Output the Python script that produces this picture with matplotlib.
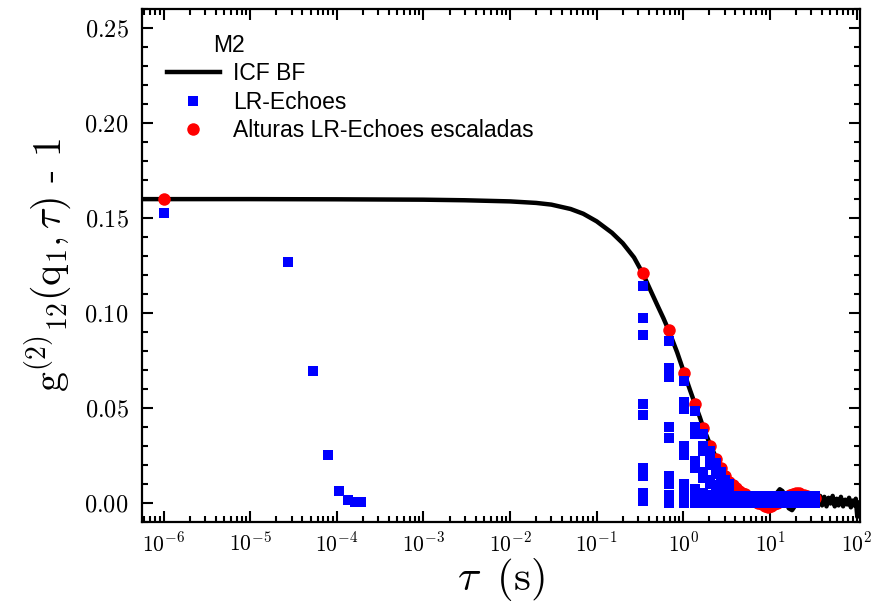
import numpy as np
import matplotlib
matplotlib.use("Agg")
import matplotlib.pyplot as plt
from matplotlib.ticker import FuncFormatter, MultipleLocator, LogLocator, NullFormatter

plt.rcParams['mathtext.fontset'] = 'cm'
plt.rcParams['font.family'] = ['Liberation Sans', 'DejaVu Sans']

# ajuste ICF BF
icf_tau = [5.6e-7, 1e-6, 1e-5, 1e-4, 1e-3, 3e-3, 1e-2, 2e-2, 3e-2, 5e-2, 7e-2, 0.1, 0.15,
           0.2, 0.27, 0.34, 0.42, 0.5, 0.59, 0.68, 0.85, 1.02, 1.2, 1.36, 1.55, 1.7, 2.04,
           2.4, 2.8, 3.2, 3.7, 4.4, 5.2, 6.0, 7.0, 8.0, 9.0, 10, 11, 12, 13, 14, 15, 16.5,
           18, 20, 22, 25, 28, 31, 34, 36, 38, 40, 42.5, 45, 47.5, 50, 53, 56, 59, 62, 66,
           70, 74, 78, 82, 86, 90, 94, 98, 102, 106]
icf_g = [0.1597, 0.1597, 0.1597, 0.1596, 0.1594, 0.1591, 0.1585, 0.1577, 0.1568, 0.1545,
         0.1520, 0.1480, 0.1420, 0.1365, 0.1290, 0.1207, 0.1115, 0.1040, 0.0970, 0.0905,
         0.0790, 0.0684, 0.0590, 0.0520, 0.0450, 0.0395, 0.0305, 0.0235, 0.0180, 0.0140,
         0.0105, 0.0075, 0.0052, 0.0038, 0.0025, 0.0015, 0.0008, 0.0005, 0.0020, 0.0050,
         0.0070, 0.0060, 0.0020, -0.0030, -0.0040, -0.0010, 0.0030, 0.0050, 0.0030, 0.0010,
         0.0040, -0.0010, 0.0035, -0.0015, 0.0030, -0.0020, 0.0025, -0.0005, 0.0035, -0.0020,
         0.0020, -0.0015, 0.0030, -0.0020, 0.0015, -0.0010, 0.0025, -0.0025, 0.0010, -0.0015,
         0.0020, -0.0075, 0.0000]

# LR-Echoes: puntos tempranos
early_tau = [1e-6, 2.7e-5, 5.3e-5, 8.0e-5, 1.07e-4, 1.35e-4, 1.62e-4, 1.9e-4]
early_g = [0.1526, 0.1267, 0.0691, 0.0252, 0.0060, 0.0012, 0.0004, 0.0001]

# LR-Echoes: columnas de ecos
echo_tau = [0.34, 0.68, 1.02, 1.36, 1.70, 2.04, 2.38, 2.72, 3.06, 3.40]
echo_cols = [
    [0.114, 0.097, 0.088, 0.052, 0.046, 0.018, 0.014, 0.005, 0.001],
    [0.085, 0.071, 0.066, 0.040, 0.034, 0.014, 0.010, 0.004, 0.000],
    [0.064, 0.053, 0.049, 0.030, 0.025, 0.010, 0.007, 0.003, 0.000],
    [0.048, 0.040, 0.036, 0.022, 0.018, 0.007, 0.005, 0.002, 0.000],
    [0.036, 0.030, 0.027, 0.016, 0.013, 0.005, 0.004, 0.001, 0.000],
    [0.027, 0.022, 0.020, 0.012, 0.010, 0.004, 0.003, 0.001, 0.000],
    [0.021, 0.017, 0.015, 0.009, 0.007, 0.003, 0.002, 0.000],
    [0.016, 0.013, 0.012, 0.007, 0.006, 0.002, 0.001, 0.000],
    [0.012, 0.010, 0.009, 0.005, 0.004, 0.001, 0.000],
    [0.010, 0.008, 0.007, 0.004, 0.003, 0.001, 0.000],
]

# LR-Echoes: banda cerca de cero
band_tau = [3.7, 4.1, 4.5, 5.0, 5.5, 6.0, 6.6, 7.3, 8.0, 8.8, 9.7, 10.7, 11.8, 13, 14.3,
            15.7, 17.3, 19, 21, 23, 25.3, 27.8, 30.6, 33]
band_levels = [0.0035, 0.0015, 0.0]

# Alturas LR-Echoes escaladas
alt_tau = [1e-6, 0.34, 0.68, 1.02, 1.36, 1.70, 2.04, 2.38, 2.72, 3.06, 3.40, 3.74, 4.08,
           4.42, 4.76, 5.10, 5.8, 6.5, 7.2, 8.0, 8.8, 9.5, 10.2, 11.0, 12, 13, 14, 15.5,
           17, 18.5, 20, 21.5, 23, 25, 27, 29, 31, 33]
alt_g = [0.1597, 0.1207, 0.0909, 0.0684, 0.0520, 0.0390, 0.0300, 0.0230, 0.0180, 0.0140,
         0.0110, 0.0090, 0.0075, 0.0060, 0.0050, 0.0045, 0.0030, 0.0020, 0.0000, -0.0010,
         -0.0020, -0.0025, -0.0020, -0.0010, 0.0000, 0.0010, 0.0020, 0.0030, 0.0040, 0.0045,
         0.0050, 0.0050, 0.0040, 0.0040, 0.0035, 0.0030, 0.0030, 0.0025]

x_decades = [1e-6, 1e-5, 1e-4, 1e-3, 1e-2, 1e-1, 1e0, 1e1, 1e2]

lr_tau = list(early_tau)
lr_g = list(early_g)
for t, col in zip(echo_tau, echo_cols):
    lr_tau += [t] * len(col)
    lr_g += col
for t in band_tau:
    for lev in band_levels:
        lr_tau.append(t)
        lr_g.append(lev)

fig = plt.figure(figsize=(8.75, 6.1), dpi=100)
ax = fig.add_axes([0.162, 0.145, 0.821, 0.841])

ax.plot(icf_tau, icf_g, color='black', lw=3.2, zorder=2, label='ICF BF')
ax.plot(lr_tau, lr_g, 's', color='#0000ff', ms=7.5, mew=0, zorder=4, label='LR-Echoes')
ax.plot(alt_tau, alt_g, 'o', color='#ff0000', ms=9, mew=0, zorder=3,
        label='Alturas LR-Echoes escaladas')

ax.set_xscale('log')
ax.set_xlim(5.6e-7, 1.1e2)
ax.set_ylim(-0.01, 0.26)

ax.yaxis.set_major_locator(MultipleLocator(0.05))
ax.yaxis.set_minor_locator(MultipleLocator(0.01))
ax.set_xticks(x_decades)
ax.xaxis.set_minor_locator(LogLocator(base=10, subs=np.arange(2, 10), numticks=20))
ax.xaxis.set_minor_formatter(NullFormatter())
ax.xaxis.set_major_formatter(FuncFormatter(lambda v, p: r'$10^{%d}$' % round(np.log10(v))))
ax.yaxis.set_major_formatter(FuncFormatter(lambda v, p: r'$%.2f$' % v))

ax.tick_params(which='both', direction='in', top=True, right=True, width=1.5)
ax.tick_params(which='major', length=8)
ax.tick_params(which='minor', length=4.5)
ax.tick_params(axis='y', which='major', labelsize=17.5, pad=9.5)
ax.tick_params(axis='x', which='major', labelsize=15.5, pad=8)
for s in ax.spines.values():
    s.set_linewidth(1.6)

ax.set_xlabel(r'$\tau\;\;(\mathrm{s})$', fontsize=31, labelpad=0)
ax.set_ylabel(r'$\mathrm{g}^{(2)}{}_{12}(\mathrm{q}_1,\tau)$ - 1', fontsize=28.5,
              family='cmr10', labelpad=8)

ax.text(0.099, 0.928, 'M2', transform=ax.transAxes, fontsize=16.5, va='center', ha='left')
ax.legend(loc='upper left', bbox_to_anchor=(0.035, 0.895), frameon=False, fontsize=16.5,
          borderpad=0, borderaxespad=0, handlelength=2.3, handletextpad=0.57,
          labelspacing=0.24, numpoints=1)

fig.savefig('out.png', dpi=100)
